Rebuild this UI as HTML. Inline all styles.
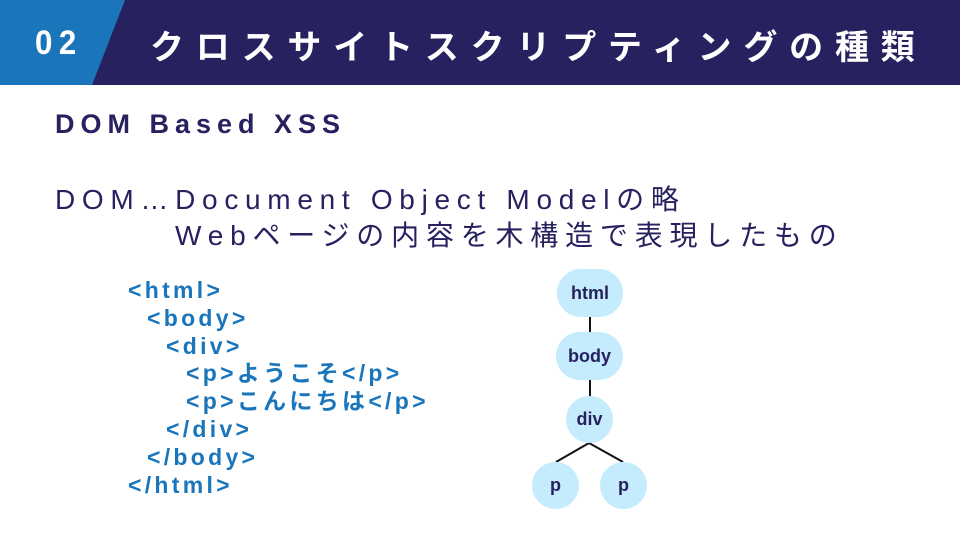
<!DOCTYPE html>
<html><head><meta charset="utf-8"><style>
body{margin:0;width:960px;height:540px;background:#fff;position:relative;overflow:hidden;font-family:"Liberation Sans","Noto Sans CJK JP",sans-serif}
.a{position:absolute;white-space:nowrap}
.t{color:#27225f;font-weight:bold}
.c{color:#1a75bb;font-weight:bold;font-size:23px;letter-spacing:3.3px;line-height:27.8px}
.c div{height:27.8px}
.n{position:absolute;background:#c4ecfd;border-radius:24px;color:#27225f;font-weight:bold;font-size:18px;display:flex;align-items:center;justify-content:center}
</style></head><body>
<svg class="a" style="left:0;top:0" width="960" height="85">
<rect width="960" height="85" fill="#27225f"/>
<polygon points="0,0 125,0 92,85 0,85" fill="#1a75bb"/>
</svg>
<div class="a" style="left:35px;top:24px;color:#fff;font-weight:bold;font-size:34px;letter-spacing:7px;transform:scaleX(0.92);transform-origin:left">02</div>
<div class="a" style="left:150px;top:20px;color:#fff;font-weight:bold;font-size:34px;letter-spacing:11.8px">クロスサイトスクリプティングの種類</div>
<div class="a t" style="left:55px;top:109px;font-size:27px;letter-spacing:6px">DOM Based XSS</div>
<div class="a" style="left:55px;top:178px;font-size:28px;letter-spacing:6.7px;color:#27225f">DOM…Document Object Modelの略</div>
<div class="a" style="left:175px;top:214px;font-size:28px;letter-spacing:6.8px;color:#27225f">Webページの内容を木構造で表現したもの</div>
<div class="a c" style="left:128px;top:277px">
<div>&lt;html&gt;</div>
<div style="padding-left:19px">&lt;body&gt;</div>
<div style="padding-left:38px">&lt;div&gt;</div>
<div style="padding-left:58px">&lt;p&gt;ようこそ&lt;/p&gt;</div>
<div style="padding-left:58px">&lt;p&gt;こんにちは&lt;/p&gt;</div>
<div style="padding-left:38px">&lt;/div&gt;</div>
<div style="padding-left:19px">&lt;/body&gt;</div>
<div>&lt;/html&gt;</div>
</div>
<svg class="a" style="left:0;top:0" width="960" height="540">
<g stroke="#111" stroke-width="2"><line x1="590" y1="316" x2="590" y2="333"/><line x1="590" y1="379" x2="590" y2="397"/><line x1="589" y1="443" x2="556" y2="462"/><line x1="589" y1="443" x2="623" y2="462"/></g>
</svg>
<div class="n" style="left:557px;top:269px;width:66px;height:48px">html</div>
<div class="n" style="left:556px;top:332px;width:67px;height:48px">body</div>
<div class="n" style="left:566px;top:396px;width:47px;height:47px">div</div>
<div class="n" style="left:532px;top:462px;width:47px;height:47px">p</div>
<div class="n" style="left:600px;top:462px;width:47px;height:47px">p</div>
</body></html>
